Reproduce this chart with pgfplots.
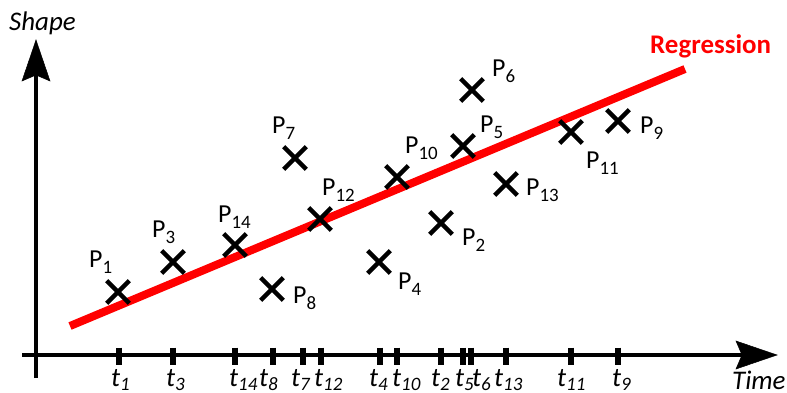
\documentclass[border=0pt]{standalone}
\usepackage{fontspec}
\setmainfont{Carlito}
\usepackage{pgfplots}
\pgfplotsset{compat=1.18}
\newcommand{\plab}[1]{{\fontsize{26}{26}\selectfont P\raisebox{-6bp}{\fontsize{19}{19}\selectfont #1}}}
\newcommand{\tlab}[1]{{\fontsize{27}{27}\selectfont\itshape t\raisebox{-4bp}{\fontsize{19}{19}\selectfont #1}}}
\begin{document}
\begin{tikzpicture}
\begin{axis}[
  width=787bp, height=393bp, scale only axis,
  xmin=0, xmax=787, ymin=0, ymax=393, y dir=reverse,
  hide axis, clip=false,
]
% invisible frame
\addplot[draw=none, forget plot] coordinates {(0,0) (787,393)};
% regression line
\addplot[red, line width=8bp, line cap=butt] coordinates {(70,326) (685,69)};
% axes
\addplot[black, line width=4bp] coordinates {(36,378) (36,75)};
\addplot[black, line width=4bp] coordinates {(22,355) (742,355)};
\addplot[black, fill=black, line width=0.5bp] coordinates {(36,40) (50,81) (36,75) (22,81) (36,40)} -- cycle;
\addplot[black, fill=black, line width=0.5bp] coordinates {(777,355) (736,341) (742,355) (736,369) (777,355)} -- cycle;
% ticks
\addplot[only marks, mark=|, mark size=8.5bp, mark options={line width=6bp, black}] coordinates {
(119,356) (173,356) (235,356) (273,356) (303,356) (321,356) (380,356)
(397,356) (441,356) (463,356) (471,356) (506,356) (571,356) (618,356)};
% points
\addplot[only marks, mark=x, mark size=16bp, mark options={line width=4.5bp, black}] coordinates {
(118,292) (441,223) (173,262) (379,262) (463,146) (472,90) (295,158)
(272,289) (618,121) (397,177) (571,132) (320,219) (506,184) (235,245)};
% point labels
\node[anchor=base west, inner sep=0] at (axis cs:89,267) {\plab{1}};
\node[anchor=base west, inner sep=0] at (axis cs:152,237) {\plab{3}};
\node[anchor=base west, inner sep=0] at (axis cs:218,222) {\plab{14}};
\node[anchor=base west, inner sep=0] at (axis cs:293,303) {\plab{8}};
\node[anchor=base west, inner sep=0] at (axis cs:322,195) {\plab{12}};
\node[anchor=base west, inner sep=0] at (axis cs:272,133) {\plab{7}};
\node[anchor=base west, inner sep=0] at (axis cs:405,153) {\plab{10}};
\node[anchor=base west, inner sep=0] at (axis cs:492,76) {\plab{6}};
\node[anchor=base west, inner sep=0] at (axis cs:480,132) {\plab{5}};
\node[anchor=base west, inner sep=0] at (axis cs:586,168) {\plab{11}};
\node[anchor=base west, inner sep=0] at (axis cs:640,133) {\plab{9}};
\node[anchor=base west, inner sep=0] at (axis cs:526,195) {\plab{13}};
\node[anchor=base west, inner sep=0] at (axis cs:462,245) {\plab{2}};
\node[anchor=base west, inner sep=0] at (axis cs:398,289) {\plab{4}};
% tick labels
\node[anchor=base west, inner sep=0] at (axis cs:111,386) {\tlab{1}};
\node[anchor=base west, inner sep=0] at (axis cs:166,386) {\tlab{3}};
\node[anchor=base west, inner sep=0] at (axis cs:229,386) {\tlab{14}};
\node[anchor=base west, inner sep=0] at (axis cs:259,386) {\tlab{8}};
\node[anchor=base west, inner sep=0] at (axis cs:291,386) {\tlab{7}};
\node[anchor=base west, inner sep=0] at (axis cs:314,386) {\tlab{12}};
\node[anchor=base west, inner sep=0] at (axis cs:369,386) {\tlab{4}};
\node[anchor=base west, inner sep=0] at (axis cs:392,386) {\tlab{10}};
\node[anchor=base west, inner sep=0] at (axis cs:431,386) {\tlab{2}};
\node[anchor=base west, inner sep=0] at (axis cs:455,386) {\tlab{5}};
\node[anchor=base west, inner sep=0] at (axis cs:472,386) {\tlab{6}};
\node[anchor=base west, inner sep=0] at (axis cs:494,386) {\tlab{13}};
\node[anchor=base west, inner sep=0] at (axis cs:557,386) {\tlab{11}};
\node[anchor=base west, inner sep=0] at (axis cs:612,386) {\tlab{9}};
% titles
\node[anchor=base west, inner sep=0] at (axis cs:9,30) {\fontsize{27}{27}\selectfont\itshape Shape};
\node[anchor=base west, inner sep=0] at (axis cs:732,389) {\fontsize{27}{27}\selectfont\itshape Time};
\node[anchor=base west, inner sep=0, text=red] at (axis cs:650,53) {\fontsize{27}{27}\selectfont\bfseries Regression};
\end{axis}
\end{tikzpicture}
\end{document}
